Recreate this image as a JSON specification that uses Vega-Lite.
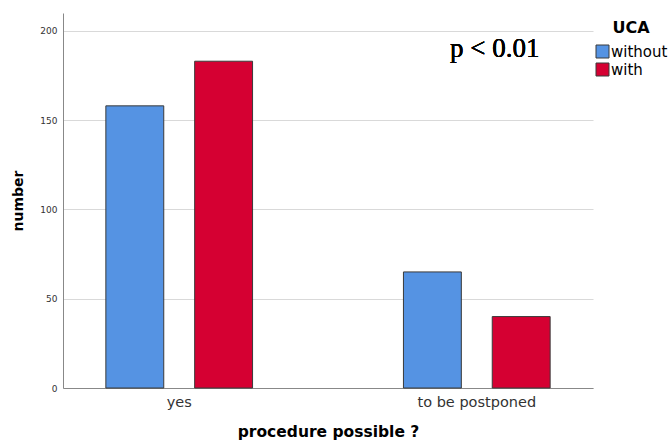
{
  "$schema": "https://vega.github.io/schema/vega-lite/v6.json",
  "width": 530,
  "height": 375,
  "autosize": {"type": "none"},
  "padding": {"left": 63, "top": 13, "right": 77, "bottom": 54},
  "background": "white",
  "config": {
    "font": "DejaVu Sans",
    "view": {"stroke": null},
    "axis": {"labelColor": "#333", "titleColor": "#000", "domainColor": "#888", "gridColor": "#d9d9d9", "ticks": false}
  },
  "data": {
    "values": [
      {"procedure": "yes", "UCA": "without", "number": 158},
      {"procedure": "yes", "UCA": "with", "number": 183},
      {"procedure": "to be postponed", "UCA": "without", "number": 65},
      {"procedure": "to be postponed", "UCA": "with", "number": 40}
    ]
  },
  "layer": [
    {
      "mark": {"type": "bar", "stroke": "#3a3a3a", "strokeWidth": 1},
      "encoding": {
        "x": {
          "field": "procedure", "type": "nominal", "sort": ["yes", "to be postponed"],
          "scale": {"paddingInner": 0.507, "paddingOuter": 0.144},
          "axis": {"labelAngle": 0, "labelFontSize": 14.5, "labelPadding": 7, "grid": false, "title": "procedure possible ?", "titleFontSize": 15.5, "titleFontWeight": "bold", "titlePadding": 16}
        },
        "xOffset": {"field": "UCA", "type": "nominal", "sort": ["without", "with"], "scale": {"paddingInner": 0.348, "paddingOuter": 0}},
        "y": {
          "field": "number", "type": "quantitative",
          "scale": {"domain": [0, 210], "nice": false},
          "axis": {"values": [0, 50, 100, 150, 200], "labelFontSize": 9, "labelPadding": 6, "title": "number", "titleFontSize": 14, "titleFontWeight": "bold", "titlePadding": 14}
        },
        "color": {
          "field": "UCA", "type": "nominal", "sort": ["without", "with"],
          "scale": {"domain": ["without", "with"], "range": ["#5593E3", "#D50032"]},
          "legend": {"orient": "none", "legendX": 532, "legendY": 7, "title": "UCA", "titleFontSize": 16, "titleFontWeight": "bold", "titleAnchor": "middle", "labelFontSize": 15, "symbolType": "square", "symbolSize": 169, "symbolStrokeColor": "#3a3a3a", "symbolStrokeWidth": 1, "padding": 0, "rowPadding": 1, "labelOffset": 1, "titlePadding": 8}
        }
      }
    },
    {
      "mark": {"type": "text", "font": "Liberation Serif", "fontWeight": "normal", "fontSize": 27, "baseline": "middle", "align": "center", "dx": 18, "color": "#000"},
      "encoding": {
        "x": {"datum": "to be postponed"},
        "y": {"datum": 190},
        "text": {"value": "p < 0.01"}
      }
    }
  ]
}
